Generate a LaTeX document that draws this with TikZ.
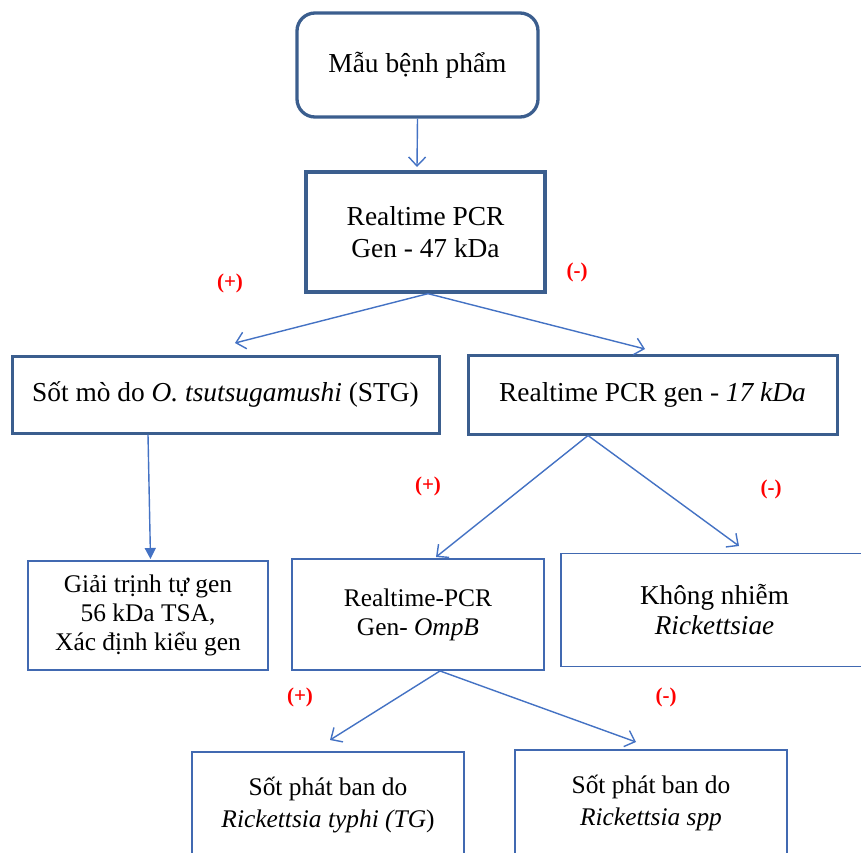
\documentclass[tikz,border=0pt]{standalone}
\usepackage{fontspec}
\setmainfont{Liberation Serif}
\usetikzlibrary{arrows.meta}
\definecolor{darkb}{HTML}{3B5E8E}
\definecolor{thinb}{HTML}{4169B1}
\definecolor{arr}{HTML}{4472C4}
\begin{document}
\begin{tikzpicture}[x=1pt,y=-1pt,
  thickbox/.style={draw=darkb,line width=3.3pt,inner sep=0pt,align=center,font=\fontsize{27.4}{32}\selectfont},
  thinbox/.style={draw=thinb,line width=1.9pt,inner sep=0pt,align=center,font=\fontsize{25.4}{29}\selectfont},
  conn/.style={draw=arr,line width=1.4pt,-{Straight Barb[length=9pt,width=17pt]}},
  solidconn/.style={draw=arr,line width=1.4pt,-{Triangle[length=11pt,width=11pt]}},
  sign/.style={text=red,font=\bfseries\fontsize{21}{24}\selectfont,inner sep=0pt}]
\useasboundingbox (0,0) rectangle (861,852);
\clip (0,0) rectangle (861,852);
\fill[white] (0,0) rectangle (861,852);

% boxes
\node[thickbox,rounded corners=18pt,minimum width=241pt,minimum height=104pt] (b1) at (417.5,65) {Mẫu bệnh phẩm};
\node[thickbox,minimum width=239pt,minimum height=120pt] (b2) at (425.5,232) {Realtime PCR\\Gen - 47 kDa};
\node[thickbox,line width=3pt,minimum width=427pt,minimum height=77pt] (b3) at (225.5,394.5) {Sốt mò do \textit{O.} \textit{tsutsugamushi} (STG)};
\node[thickbox,line width=3pt,minimum width=369pt,minimum height=79pt] (b4) at (652.5,394.5) {Realtime PCR gen - \textit{17 kDa}};
\node[thinbox,minimum width=240pt,minimum height=109pt] (b5) at (148,615.5) {Giải trịnh tự gen\\56 kDa TSA,\\Xác định kiểu gen};
\node[thinbox,minimum width=252pt,minimum height=111pt] (b6) at (418,614.5) {Realtime-PCR\\Gen- \textit{OmpB}};
\node[thinbox,font=\fontsize{27.2}{30}\selectfont,minimum width=333pt,minimum height=113pt] (b7) at (727.5,610) {\mbox{Không nhiễm\kern26pt}\\\mbox{\textit{Rickettsiae}\kern26pt}};
\node[thinbox,font=\fontsize{25.4}{32}\selectfont,minimum width=272pt,minimum height=106pt] (b8) at (328,805) {Sốt phát ban do\\\textit{Rickettsia typhi (TG})};
\node[thinbox,font=\fontsize{25.4}{32}\selectfont,minimum width=272pt,minimum height=106pt] (b9) at (651,803) {Sốt phát ban do\\\textit{Rickettsia spp}};

% arrow ends
\coordinate (t1) at (417,167);
\coordinate (t2) at (235,343);
\coordinate (t3) at (645,349);
\coordinate (t4) at (150.5,559);
\coordinate (t5) at (436,557);
\coordinate (t6) at (739,546);
\coordinate (t7) at (330,740);
\coordinate (t8) at (636,742);

% connectors
\draw[conn] (b1.south) -- (t1);
\draw[conn] ([xshift=2.5pt]b2.south) -- (t2);
\draw[conn] ([xshift=2.5pt]b2.south) -- (t3);
\draw[solidconn] ([xshift=-77.5pt]b3.south) -- (t4);
\draw[conn] ([xshift=-64.5pt]b4.south) -- (t5);
\draw[conn] ([xshift=-64.5pt]b4.south) -- (t6);
\draw[conn] ([xshift=22pt]b6.south) -- (t7);
\draw[conn] ([xshift=22pt]b6.south) -- (t8);

% signs
\node[sign] (s1) at (230,283) {(+)};
\node[sign] (s2) at (577,272) {(-)};
\node[sign] (s3) at (428,486) {(+)};
\node[sign] (s4) at (771,489) {(-)};
\node[sign] (s5) at (300,697) {(+)};
\node[sign] (s6) at (666,697) {(-)};
\end{tikzpicture}
\end{document}
